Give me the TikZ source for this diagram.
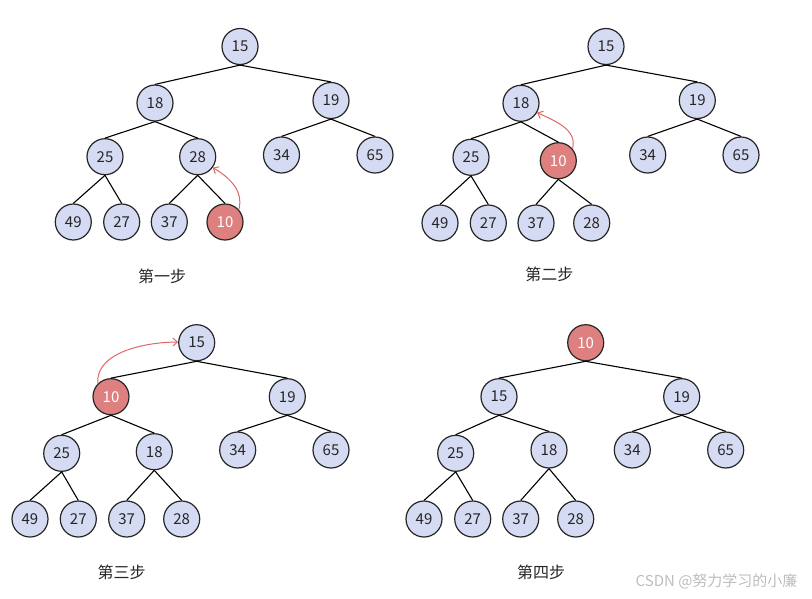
\documentclass[tikz,border=0pt]{standalone}
\usepackage{fontspec}
\setmainfont{Noto Sans CJK SC}
\usetikzlibrary{arrows.meta}
\definecolor{nodeblue}{HTML}{D5DBF2}
\definecolor{nodered}{HTML}{DE8080}
\definecolor{arrowred}{HTML}{E06666}
\definecolor{wmgray}{HTML}{BDBDBD}
\tikzset{
  hnode/.style={circle, draw=black!85, line width=1.2pt, fill=nodeblue, minimum size=36pt, inner sep=0pt, text=black!85, font=\fontsize{15}{16}\selectfont},
  rnode/.style={hnode, fill=nodered, text=white},
  edge/.style={line width=1.1pt, black},
  moveto/.style={arrowred, line width=1pt, -{Straight Barb[length=4.5pt,width=8pt]}},
  steplabel/.style={font=\fontsize{16}{17}\selectfont, text=black!85},
  wm/.style={font=\fontsize{15}{16}\selectfont, text=wmgray, anchor=east}
}
\begin{document}
\begin{tikzpicture}[x=1pt,y=-1pt]
\useasboundingbox (0,0) rectangle (812,598);
% ---------- step 1 ----------
\node[hnode] (a15) at (240,46.5) {15};
\node[hnode] (a18) at (155,103) {18};
\node[hnode] (a19) at (331,100.5) {19};
\node[hnode] (a25) at (105,156.7) {25};
\node[hnode] (a28) at (197.7,156.7) {28};
\node[hnode] (a34) at (281.5,155) {34};
\node[hnode] (a65) at (375,155) {65};
\node[hnode] (a49) at (73.3,222) {49};
\node[hnode] (a27) at (121.7,222) {27};
\node[hnode] (a37) at (169.3,222) {37};
\node[rnode] (a10) at (225,222) {10};
\node[steplabel] (al) at (162,276.5) {第一步};
\foreach \p/\c in {a15/a18,a15/a19,a18/a25,a18/a28,a19/a34,a19/a65,a25/a49,a25/a27,a28/a37,a28/a10}
  \draw[edge] (\p.south) -- (\c.north);
\draw[moveto] (a10.42) to[out=75,in=-30] (a28.-36);
% ---------- step 2 ----------
\node[hnode] (b15) at (606,46.5) {15};
\node[hnode] (b18) at (521,103.3) {18};
\node[hnode] (b19) at (697.3,100.5) {19};
\node[hnode] (b25) at (471,157.3) {25};
\node[rnode] (b10) at (558.3,160.7) {10};
\node[hnode] (b34) at (647.7,155) {34};
\node[hnode] (b65) at (741,155) {65};
\node[hnode] (b49) at (440,223) {49};
\node[hnode] (b27) at (488.3,223) {27};
\node[hnode] (b37) at (536,223) {37};
\node[hnode] (b28) at (591.7,223) {28};
\node[steplabel] (bl) at (549.3,274) {第二步};
\foreach \p/\c in {b15/b18,b15/b19,b18/b25,b18/b10,b19/b34,b19/b65,b25/b49,b25/b27,b10/b37,b10/b28}
  \draw[edge] (\p.south) -- (\c.north);
\draw[moveto] (b10.40) to[out=75,in=-25] (b18.-30);
% ---------- step 3 ----------
\node[hnode] (c15) at (196.7,342.7) {15};
\node[rnode] (c10) at (111,396.7) {10};
\node[hnode] (c19) at (287.3,396.7) {19};
\node[hnode] (c25) at (61.7,453.3) {25};
\node[hnode] (c18) at (154.3,451.7) {18};
\node[hnode] (c34) at (237.7,450) {34};
\node[hnode] (c65) at (331,450) {65};
\node[hnode] (c49) at (30,519) {49};
\node[hnode] (c27) at (78.3,519) {27};
\node[hnode] (c37) at (126.7,519) {37};
\node[hnode] (c28) at (181.7,519) {28};
\node[steplabel] (cl) at (121.7,572.3) {第三步};
\foreach \p/\c in {c15/c10,c15/c19,c10/c25,c10/c18,c19/c34,c19/c65,c25/c49,c25/c27,c18/c37,c18/c28}
  \draw[edge] (\p.south) -- (\c.north);
\draw[moveto] (c10.135) to[out=95,in=180,looseness=0.9] (c15.178);
% ---------- step 4 ----------
\node[rnode] (d10) at (585.7,342.7) {10};
\node[hnode] (d15) at (499,396.7) {15};
\node[hnode] (d19) at (681.7,396.7) {19};
\node[hnode] (d25) at (455.7,453.3) {25};
\node[hnode] (d18) at (549,450) {18};
\node[hnode] (d34) at (632.3,450) {34};
\node[hnode] (d65) at (725.7,450) {65};
\node[hnode] (d49) at (424,519) {49};
\node[hnode] (d27) at (472.7,519) {27};
\node[hnode] (d37) at (520.7,519) {37};
\node[hnode] (d28) at (575.7,519) {28};
\node[steplabel] (dl) at (541,572.5) {第四步};
\foreach \p/\c in {d10/d15,d10/d19,d15/d25,d15/d18,d19/d34,d19/d65,d25/d49,d25/d27,d18/d37,d18/d28}
  \draw[edge] (\p.south) -- (\c.north);
% ---------- watermark ----------
\node[wm] (wmk) at (801,581) {CSDN @努力学习的小廉};
\end{tikzpicture}
\end{document}
